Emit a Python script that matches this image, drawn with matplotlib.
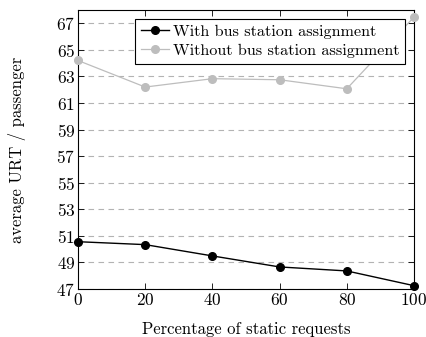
import matplotlib
matplotlib.use('Agg')
import matplotlib.pyplot as plt

plt.rcParams['font.family'] = 'cmr10'
plt.rcParams['mathtext.fontset'] = 'cm'
plt.rcParams['axes.formatter.use_mathtext'] = True

# porcentaje de solicitudes estaticas
static_pct = [0, 20, 40, 60, 80, 100]
# URT promedio por pasajero
urt_with = [50.56, 50.34, 49.49, 48.66, 48.36, 47.25]
urt_without = [64.2, 62.2, 62.83, 62.75, 62.07, 67.47]
yticks = list(range(47, 68, 2))

fig = plt.figure(figsize=(4.26, 3.37), dpi=100)
ax = fig.add_axes([78/426, 1-289/337, (414-78)/426, (289-10)/337])

ax.plot(static_pct, urt_with, color='black', lw=1.0, marker='o', ms=5.5,
        label='With bus station assignment', zorder=3, clip_on=False)
ax.plot(static_pct, urt_without, color='#bdbdbd', lw=0.9, marker='o', ms=5.5,
        label='Without bus station assignment', zorder=3, clip_on=False)

ax.set_xlim(0, 100)
ax.set_ylim(47, 68)
ax.set_xticks(static_pct)
ax.set_yticks(yticks)
ax.yaxis.grid(True, ls=(0, (5, 4)), color='#b3b3b3', lw=0.8)
ax.tick_params(direction='in', top=True, right=True, labelsize=12.5, length=4,
               width=0.6, pad=2)
for s in ax.spines.values():
    s.set_linewidth(0.8)

ax.set_xlabel('Percentage of static requests', fontsize=12, labelpad=10)
ax.set_ylabel('average URT / passenger', fontsize=12, labelpad=22)

leg = ax.legend(loc='upper right', bbox_to_anchor=(0.973, 0.969), fontsize=11.7,
                fancybox=False, edgecolor='black', framealpha=1,
                handlelength=1.7, borderpad=0.35, labelspacing=0.3,
                handletextpad=0.25, borderaxespad=0)
leg.get_frame().set_linewidth(0.8)

plt.savefig('out.png', dpi=100)
